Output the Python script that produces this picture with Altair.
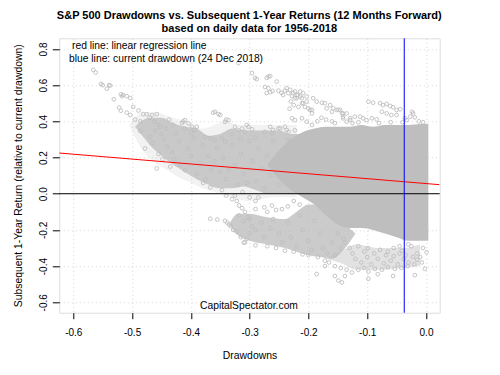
import altair as alt
import pandas as pd

# ---------------- text ----------------
TITLE_1 = "S&P 500 Drawdowns vs. Subsequent 1-Year Returns (12 Months Forward)"
TITLE_2 = "based on daily data for 1956-2018"
NOTE_RED = "red line: linear regression line"
NOTE_BLUE = "blue line: current drawdown (24 Dec 2018)"
CREDIT = "CapitalSpectator.com"
X_TITLE = "Drawdowns"
Y_TITLE = "Subsequent 1-Year Return (relative to current drawdown)"

x_ticks = [-0.6, -0.5, -0.4, -0.3, -0.2, -0.1, 0.0]
y_ticks = [-0.6, -0.4, -0.2, 0.0, 0.2, 0.4, 0.6, 0.8]

# ---------------- reference lines ----------------
current_drawdown = [-0.037]
zero_line = [0.0]
reg_x = [-0.624, 0.023]
reg_y = [0.225, 0.050]

# ---------------- saturated (overplotted) regions ----------------
solid_x = [-0.27, -0.25, -0.23, -0.21, -0.19, -0.17, -0.15, -0.13, -0.11, -0.09, -0.07, -0.05, -0.03, -0.01, 0.004]
solid_top = [0.16, 0.24, 0.30, 0.34, 0.36, 0.37, 0.37, 0.37, 0.38, 0.37, 0.38, 0.38, 0.38, 0.385, 0.385]
solid_bottom = [0.16, 0.08, 0.02, -0.02, -0.06, -0.12, -0.17, -0.19, -0.19, -0.20, -0.22, -0.24, -0.26, -0.26, -0.26]

mid_x = [-0.495, -0.485, -0.47, -0.45, -0.43, -0.41, -0.39, -0.37, -0.35, -0.33, -0.31, -0.29, -0.27, -0.25, -0.23, -0.21]
mid_top = [0.37, 0.40, 0.42, 0.42, 0.39, 0.37, 0.36, 0.32, 0.33, 0.36, 0.35, 0.35, 0.35, 0.35, 0.33, 0.33]
mid_bottom = [0.37, 0.33, 0.27, 0.21, 0.16, 0.12, 0.08, 0.05, 0.03, 0.03, 0.04, 0.02, 0.0, 0.0, 0.0, 0.0]

halo_x = [-0.505, -0.48, -0.46, -0.44, -0.42, -0.40, -0.38, -0.36, -0.34, -0.32, -0.30, -0.28, -0.26, -0.24, -0.22]
halo_top = [0.38, 0.45, 0.45, 0.43, 0.41, 0.39, 0.36, 0.38, 0.40, 0.38, 0.38, 0.38, 0.38, 0.38, 0.38]
halo_bottom = [0.38, 0.23, 0.17, 0.13, 0.09, 0.06, 0.03, 0.01, -0.01, -0.03, -0.04, -0.03, -0.02, -0.02, -0.02]

low_x = [-0.335, -0.32, -0.30, -0.27, -0.24, -0.22, -0.20, -0.18, -0.16, -0.14, -0.12]
low_top = [-0.17, -0.11, -0.11, -0.13, -0.14, -0.10, -0.06, -0.06, -0.10, -0.16, -0.22]
low_bottom = [-0.17, -0.23, -0.26, -0.28, -0.30, -0.32, -0.34, -0.35, -0.36, -0.31, -0.22]

tail_x = [-0.17, -0.14, -0.12, -0.08, -0.04, -0.01]
tail_top = [-0.36, -0.31, -0.28, -0.30, -0.30, -0.28]
tail_bottom = [-0.36, -0.39, -0.42, -0.42, -0.41, -0.40]

# ---------------- individual circles ----------------
far_left = [
    (-0.566, 0.685), (-0.562, 0.67), (-0.553, 0.607), (-0.55, 0.60), (-0.539, 0.60), (-0.543, 0.58),
    (-0.537, 0.598), (-0.531, 0.522), (-0.519, 0.549), (-0.515, 0.546), (-0.517, 0.539), (-0.509, 0.539),
    (-0.503, 0.529), (-0.522, 0.476), (-0.519, 0.459), (-0.509, 0.448), (-0.503, 0.435), (-0.498, 0.48),
    (-0.489, 0.46), (-0.495, 0.41), (-0.486, 0.40), (-0.481, 0.44), (-0.475, 0.44), (-0.466, 0.435),
    (-0.458, 0.44), (-0.452, 0.37), (-0.486, 0.346), (-0.478, 0.25), (-0.469, 0.315), (-0.458, 0.14),
    (-0.413, 0.40),
]
left_blob = [
    (-0.47, 0.42), (-0.462, 0.40), (-0.455, 0.38), (-0.46, 0.35), (-0.45, 0.33), (-0.442, 0.36),
    (-0.445, 0.30), (-0.437, 0.41), (-0.43, 0.38), (-0.44, 0.26), (-0.432, 0.23), (-0.425, 0.33),
    (-0.42, 0.29), (-0.428, 0.19), (-0.418, 0.16), (-0.41, 0.36), (-0.405, 0.25), (-0.41, 0.13),
    (-0.40, 0.21), (-0.395, 0.31), (-0.39, 0.11), (-0.385, 0.17), (-0.38, 0.27), (-0.375, 0.08),
    (-0.37, 0.21), (-0.365, 0.13), (-0.379, 0.06), (-0.367, 0.035), (-0.347, 0.02), (-0.455, 0.22),
    (-0.448, 0.19), (-0.465, 0.28), (-0.435, 0.15), (-0.40, 0.34), (-0.39, 0.37), (-0.415, 0.39),
]
mid_mass = [
    (-0.359, 0.453), (-0.35, 0.435), (-0.362, 0.448), (-0.353, 0.44), (-0.342, 0.398), (-0.336, 0.407),
    (-0.34, 0.41), (-0.325, 0.37), (-0.319, 0.35), (-0.313, 0.36), (-0.308, 0.342), (-0.305, 0.38),
    (-0.302, 0.37), (-0.296, 0.356), (-0.274, 0.342), (-0.262, 0.333), (-0.251, 0.361), (-0.24, 0.37),
    (-0.234, 0.342), (-0.223, 0.35), (-0.265, 0.37), (-0.26, 0.352), (-0.248, 0.361), (-0.237, 0.352),
    (-0.228, 0.417), (-0.223, 0.407), (-0.41, 0.407), (-0.404, 0.389), (-0.398, 0.37), (-0.393, 0.352),
    (-0.376, 0.315), (-0.367, 0.306), (-0.359, 0.296), (-0.347, 0.306), (-0.342, 0.287),
    (-0.355, 0.25), (-0.345, 0.20), (-0.35, 0.12), (-0.34, 0.08), (-0.33, 0.27), (-0.325, 0.16),
    (-0.32, 0.05), (-0.315, 0.22), (-0.31, 0.11), (-0.30, 0.29), (-0.295, 0.18), (-0.29, 0.07),
    (-0.285, 0.25), (-0.28, 0.14), (-0.275, 0.03), (-0.27, 0.21), (-0.265, 0.10), (-0.26, 0.29),
    (-0.255, 0.17), (-0.25, 0.05), (-0.245, 0.24), (-0.24, 0.12), (-0.235, 0.30), (-0.33, 0.33),
    (-0.315, 0.30), (-0.29, 0.31), (-0.36, 0.18), (-0.335, 0.13), (-0.305, 0.06),
    (-0.325, -0.01), (-0.322, -0.04), (-0.318, -0.065), (-0.34, -0.01), (-0.33, -0.03), (-0.312, 0.01),
    (-0.30, -0.02), (-0.29, -0.04), (-0.285, -0.02),
]
upper_mid = [
    (-0.319, 0.722), (-0.296, 0.667), (-0.291, 0.64), (-0.288, 0.633), (-0.271, 0.64), (-0.265, 0.65),
    (-0.268, 0.648), (-0.274, 0.59), (-0.268, 0.583), (-0.261, 0.568), (-0.271, 0.557), (-0.265, 0.561),
    (-0.254, 0.62), (-0.251, 0.57), (-0.246, 0.557), (-0.24, 0.57), (-0.234, 0.556), (-0.228, 0.54),
    (-0.223, 0.565), (-0.214, 0.565), (-0.209, 0.556), (-0.243, 0.546), (-0.237, 0.583), (-0.231, 0.574),
    (-0.226, 0.556), (-0.22, 0.546), (-0.214, 0.537), (-0.223, 0.528), (-0.217, 0.48), (-0.211, 0.528),
    (-0.209, 0.50), (-0.218, 0.546), (-0.203, 0.537), (-0.22, 0.528), (-0.211, 0.50), (-0.206, 0.48),
    (-0.20, 0.472), (-0.194, 0.463), (-0.203, 0.509), (-0.197, 0.463), (-0.194, 0.444), (-0.211, 0.417),
    (-0.203, 0.398), (-0.194, 0.38), (-0.23, 0.51), (-0.225, 0.49), (-0.232, 0.47),
]
upper_right = [
    (-0.192, 0.528), (-0.186, 0.509), (-0.177, 0.503), (-0.172, 0.50), (-0.163, 0.49), (-0.158, 0.472),
    (-0.152, 0.463), (-0.169, 0.472), (-0.16, 0.453), (-0.146, 0.463), (-0.141, 0.444), (-0.149, 0.463),
    (-0.143, 0.444), (-0.141, 0.417), (-0.135, 0.398), (-0.129, 0.407), (-0.121, 0.426), (-0.135, 0.444),
    (-0.141, 0.426), (-0.129, 0.417), (-0.112, 0.426), (-0.107, 0.417), (-0.098, 0.509), (-0.09, 0.503),
    (-0.078, 0.50), (-0.073, 0.49), (-0.067, 0.496), (-0.061, 0.485), (-0.056, 0.478), (-0.05, 0.463),
    (-0.044, 0.467), (-0.075, 0.453), (-0.067, 0.444), (-0.059, 0.435), (-0.05, 0.435), (-0.024, 0.453),
    (-0.022, 0.444), (-0.027, 0.426), (-0.019, 0.422), (-0.036, 0.417), (-0.033, 0.407), (-0.101, 0.407),
    (-0.092, 0.417), (-0.084, 0.411), (-0.185, 0.40), (-0.178, 0.42), (-0.17, 0.41), (-0.16, 0.40),
    (-0.155, 0.39), (-0.08, 0.39), (-0.06, 0.395), (-0.04, 0.395), (-0.012, 0.40), (-0.005, 0.395),
    (-0.115, 0.395), (-0.125, 0.39),
]
below_left = [
    (-0.367, -0.138), (-0.355, -0.143), (-0.342, -0.15), (-0.338, -0.16), (-0.332, -0.18), (-0.328, -0.20),
    (-0.322, -0.21), (-0.335, -0.17), (-0.313, -0.08), (-0.308, -0.10), (-0.303, -0.13), (-0.296, -0.18),
    (-0.31, -0.15), (-0.30, -0.22), (-0.305, -0.25), (-0.31, -0.27), (-0.315, -0.24),
    (-0.29, -0.085), (-0.275, -0.075), (-0.27, -0.10), (-0.262, -0.065), (-0.255, -0.09), (-0.245, -0.085),
    (-0.235, -0.07), (-0.225, -0.04), (-0.215, -0.06),
]
lower_band = [
    (-0.308, -0.27), (-0.29, -0.285), (-0.27, -0.29), (-0.255, -0.30), (-0.24, -0.315), (-0.225, -0.32),
    (-0.21, -0.335), (-0.20, -0.34), (-0.184, -0.35), (-0.172, -0.37), (-0.165, -0.38), (-0.155, -0.40),
    (-0.145, -0.41), (-0.135, -0.42), (-0.126, -0.435), (-0.115, -0.42), (-0.105, -0.41), (-0.098, -0.43),
    (-0.087, -0.415), (-0.075, -0.42), (-0.065, -0.405), (-0.053, -0.415), (-0.042, -0.41), (-0.031, -0.40),
    (-0.02, -0.39), (-0.007, -0.38), (-0.186, -0.444), (-0.172, -0.40), (-0.155, -0.455), (-0.149, -0.48),
    (-0.143, -0.49), (-0.138, -0.455), (-0.098, -0.47), (-0.082, -0.445), (-0.056, -0.455), (-0.019, -0.45),
    (-0.002, -0.415), (0.001, -0.324), (-0.01, -0.35), (-0.005, -0.30), (-0.015, -0.33),
    (-0.138, -0.27), (-0.13, -0.30), (-0.125, -0.33), (-0.12, -0.36), (-0.115, -0.29), (-0.11, -0.38),
    (-0.105, -0.32), (-0.10, -0.35), (-0.099, -0.30), (-0.093, -0.39), (-0.088, -0.33), (-0.082, -0.36),
    (-0.078, -0.31), (-0.072, -0.385), (-0.068, -0.34), (-0.065, -0.32), (-0.06, -0.37), (-0.055, -0.345),
    (-0.048, -0.39), (-0.045, -0.33), (-0.041, -0.315), (-0.038, -0.36), (-0.035, -0.34), (-0.03, -0.38),
    (-0.025, -0.29), (-0.022, -0.35), (-0.015, -0.365), (-0.03, -0.28), (-0.045, -0.29), (-0.055, -0.30),
    (-0.318, -0.12), (-0.30, -0.14), (-0.29, -0.20), (-0.28, -0.16), (-0.275, -0.24), (-0.265, -0.19),
    (-0.26, -0.14), (-0.25, -0.22), (-0.245, -0.27), (-0.235, -0.16), (-0.23, -0.24), (-0.22, -0.29),
    (-0.215, -0.12), (-0.21, -0.20), (-0.20, -0.26), (-0.195, -0.31), (-0.19, -0.15), (-0.18, -0.22),
    (-0.175, -0.30), (-0.168, -0.33), (-0.16, -0.27), (-0.155, -0.34), (-0.15, -0.22), (-0.145, -0.30),
    (-0.14, -0.25),
]

# ---------------- build tables ----------------
groups = [far_left, left_blob, mid_mass, upper_mid, upper_right, below_left, lower_band]
pts = pd.DataFrame([p for g in groups for p in g], columns=["dd", "ret"])
solid_df = pd.DataFrame({"dd": solid_x, "top": solid_top, "bottom": solid_bottom})
mid_df = pd.DataFrame({"dd": mid_x, "top": mid_top, "bottom": mid_bottom})
halo_df = pd.DataFrame({"dd": halo_x, "top": halo_top, "bottom": halo_bottom})
low_df = pd.DataFrame({"dd": low_x, "top": low_top, "bottom": low_bottom})
tail_df = pd.DataFrame({"dd": tail_x, "top": tail_top, "bottom": tail_bottom})
reg_df = pd.DataFrame({"dd": reg_x, "ret": reg_y})

FONT = "Liberation Sans"
GRAY = "#BEBEBE"
xs = alt.Scale(domain=[-0.6238, 0.0233], nice=False, zero=False)
ys = alt.Scale(domain=[-0.6575, 0.859], nice=False, zero=False)
LBL = "replace(format(datum.value, '.1f'), '\u2212', '-')"

x_axis = alt.Axis(
    values=x_ticks, labelExpr=LBL, title=X_TITLE, grid=True, gridColor="#D3D3D3",
    gridDash=[1, 3], domain=False, tickSize=6, tickColor="black", labelFont=FONT,
    labelFontSize=10, labelColor="black", labelBaseline="alphabetic", labelPadding=16.5,
    titleFont=FONT, titleFontSize=10.4, titleFontWeight="normal", titleColor="black",
    titleY=45.5, titleBaseline="alphabetic",
)
y_axis = alt.Axis(
    values=y_ticks, labelExpr=LBL, title=Y_TITLE, grid=True, gridColor="#D3D3D3",
    gridDash=[1, 3], domain=False, tickSize=7, tickColor="black", labelFont=FONT,
    labelFontSize=10, labelColor="black", labelAngle=270, labelAlign="center",
    labelBaseline="alphabetic", labelPadding=6, titleFont=FONT, titleFontSize=10.4,
    titleFontWeight="normal", titleColor="black", titleAngle=270, titleX=-38,
    titleY=137, titleAlign="center", titleBaseline="alphabetic",
)

X = lambda f: alt.X(f, scale=xs, axis=x_axis, title=X_TITLE)
Y = lambda f: alt.Y(f, scale=ys, axis=y_axis, title=Y_TITLE)

points = alt.Chart(pts).mark_point(
    shape="circle", filled=False, color=GRAY, size=14, strokeWidth=0.9, opacity=1
).encode(x=X("dd:Q"), y=Y("ret:Q"))


def band(df, opacity):
    return alt.Chart(df).mark_area(color=GRAY, opacity=opacity, interpolate="monotone").encode(
        x=X("dd:Q"), y=Y("top:Q"), y2="bottom:Q"
    )


halo_area = band(halo_df, 0.2)
mid_area = band(mid_df, 0.8)
low_area = band(low_df, 0.8)
tail_area = band(tail_df, 0.45)
solid_area = band(solid_df, 1.0)

reg_line = alt.Chart(reg_df).mark_line(color="#FF0000", strokeWidth=1, clip=True).encode(
    x=X("dd:Q"), y=Y("ret:Q")
)
zero_rule = alt.Chart(pd.DataFrame({"ret": zero_line})).mark_rule(color="black", strokeWidth=1).encode(
    y=Y("ret:Q")
)
blue_rule = alt.Chart(pd.DataFrame({"dd": current_drawdown})).mark_rule(color="#0000FF", strokeWidth=1).encode(
    x=X("dd:Q")
)


def label(text, x, y, size, align="left", weight="normal"):
    return alt.Chart(pd.DataFrame({"t": [text]})).mark_text(
        align=align, baseline="alphabetic", font=FONT, fontSize=size, fontWeight=weight, color="black"
    ).encode(x=alt.value(x), y=alt.value(y), text="t:N")


texts = [
    label(TITLE_1, 190, -19.4, 11, "center", "bold"),
    label(TITLE_2, 190, -6.4, 11, "center", "bold"),
    label(NOTE_RED, 12.7, 11, 10.3),
    label(NOTE_BLUE, 9.7, 23.6, 10.3),
    label(CREDIT, 189.7, 271, 10.3, "center"),
]

chart = alt.layer(
    halo_area, mid_area, low_area, tail_area, solid_area, points, reg_line, zero_rule, blue_rule, *texts
).properties(
    width=380.4,
    height=274.4,
    autosize=alt.AutoSizeParams(type="none"),
    padding={"left": 51.3, "top": 30.3, "right": 52.3, "bottom": 54.3},
).configure_view(stroke="black", strokeWidth=1).configure(background="white")

chart.save("out.html", embed_options={"renderer": "svg", "actions": False})
